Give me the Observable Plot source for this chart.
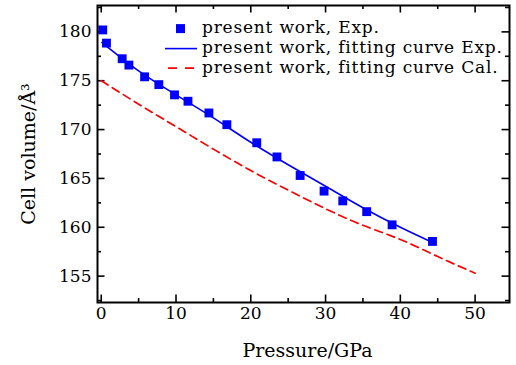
<!DOCTYPE html>
<html><head><meta charset="utf-8">
<script src="https://cdn.jsdelivr.net/npm/d3@7"></script>
<script src="https://cdn.jsdelivr.net/npm/@observablehq/plot@0.6"></script>
<style>
body{margin:0;background:#fff}
#chart{width:516px;height:365px}
</style></head><body><div id="chart"></div>
<script>
// Experimental points
const expPressure = [0.2, 0.7, 2.8, 3.7, 5.8, 7.7, 9.8, 11.6, 14.4, 16.8, 20.8, 23.5, 26.6, 29.8, 32.3, 35.5, 38.9, 44.3];
const expVolume   = [180.2, 178.85, 177.25, 176.6, 175.4, 174.6, 173.55, 172.9, 171.7, 170.5, 168.65, 167.2, 165.3, 163.7, 162.7, 161.6, 160.25, 158.55];
// Fitting curve (Exp.)
const fitExpPressure = [0.1, 5, 10, 15, 20, 25, 30, 35, 40, 44.3];
const fitExpVolume   = [178.9, 176.0, 173.55, 171.2, 168.7, 166.4, 164.2, 162.0, 160.0, 158.45];
// Fitting curve (Cal.)
const fitCalPressure = [0, 5, 10, 15, 20, 25, 30, 35, 40, 45, 50];
const fitCalVolume   = [175.0, 172.6, 170.3, 168.0, 165.8, 163.8, 161.9, 160.2, 158.75, 157.0, 155.3];
// Ticks and labels
const xMajorTicks = [0, 10, 20, 30, 40, 50];
const xMinorTicks = [5, 15, 25, 35, 45];
const yMajorTicks = [155, 160, 165, 170, 175, 180];
const yMinorTicks = [152.5, 157.5, 162.5, 167.5, 172.5, 177.5, 182.5];
const xLabel = "Pressure/GPa";
const yLabel = "Cell volume/Å³";
const legendLabels = ["present work, Exp.", "present work, fitting curve Exp.", "present work, fitting curve Cal."];

const expData = expPressure.map((p, i) => ({p, v: expVolume[i]}));
const fitExp = fitExpPressure.map((p, i) => ({p, v: fitExpVolume[i]}));
const fitCal = fitCalPressure.map((p, i) => ({p, v: fitCalVolume[i]}));

const blue = "#0000ff", red = "#ff0000";
const W = 516, H = 365, mL = 97, mR = 7, mT = 5, mB = 63;
const frameW = W - mL - mR, frameH = H - mT - mB;
const tw = 1.6;
// inward tick marks drawn as short rules against each side of the frame
const xTicksIn = (ticks, len) => [
  Plot.ruleX(ticks, {x: d => d, insetTop: frameH - len, strokeWidth: tw, stroke: "black"}),
  Plot.ruleX(ticks, {x: d => d, insetBottom: frameH - len, strokeWidth: tw, stroke: "black"})
];
const yTicksIn = (ticks, len) => [
  Plot.ruleY(ticks, {y: d => d, insetRight: frameW - len, strokeWidth: tw, stroke: "black"}),
  Plot.ruleY(ticks, {y: d => d, insetLeft: frameW - len, strokeWidth: tw, stroke: "black"})
];

const svg = Plot.plot({
  width: W, height: H,
  marginLeft: mL, marginRight: mR, marginTop: mT, marginBottom: mB,
  style: {fontFamily: "DejaVu Serif", fontSize: "17px", background: "white", color: "black", overflow: "visible"},
  x: {domain: [-0.5, 54.6]},
  y: {domain: [152.3, 182.7]},
  marks: [
    ...xTicksIn(xMajorTicks, 7.5),
    ...xTicksIn(xMinorTicks, 4),
    ...yTicksIn(yMajorTicks, 7.5),
    ...yTicksIn(yMinorTicks, 4),
    Plot.axisX({anchor: "bottom", ticks: xMajorTicks, tickSize: 0, tickPadding: 4, label: null}),
    Plot.axisY({anchor: "left", ticks: yMajorTicks, tickSize: 0, tickPadding: 6, label: null}),
    Plot.line(fitCal, {x: "p", y: "v", stroke: red, strokeWidth: 1.7, strokeDasharray: "8,5", curve: "natural"}),
    Plot.line(fitExp, {x: "p", y: "v", stroke: blue, strokeWidth: 1.6, curve: "natural"}),
    Plot.dot(expData, {x: "p", y: "v", symbol: "square", r: 5, fill: blue, stroke: "none"}),
    Plot.frame({strokeWidth: 2}),
    Plot.text([xLabel], {frameAnchor: "bottom", text: d => d, textAnchor: "middle", lineAnchor: "middle", dx: 4, dy: 48, fontSize: 19, letterSpacing: "1px"}),
    Plot.text([yLabel], {frameAnchor: "left", text: d => d, textAnchor: "middle", lineAnchor: "middle", rotate: -90, dx: -69, fontSize: 19, letterSpacing: "0.5px"})
  ]
});

// Legend inside the plot area (top right)
const g = d3.select(svg).append("g")
  .attr("font-family", "DejaVu Serif").attr("font-size", 17)
  .attr("text-anchor", "start").style("letter-spacing", "0.8px");
const rows = [33, 53, 72.5];
g.append("rect").attr("x", 176).attr("y", rows[0] - 4.4 - 4.5).attr("width", 9).attr("height", 9).attr("fill", blue);
g.append("line").attr("x1", 165).attr("x2", 197).attr("y1", rows[1] - 4.4).attr("y2", rows[1] - 4.4).attr("stroke", blue).attr("stroke-width", 1.6);
g.append("line").attr("x1", 168).attr("x2", 197).attr("y1", rows[2] - 4.4).attr("y2", rows[2] - 4.4).attr("stroke", red).attr("stroke-width", 1.7).attr("stroke-dasharray", "9,8");
legendLabels.forEach((t, i) => g.append("text").attr("x", 202).attr("y", rows[i]).attr("fill", "black").text(t));

document.getElementById("chart").appendChild(svg);
</script>
</body></html>
